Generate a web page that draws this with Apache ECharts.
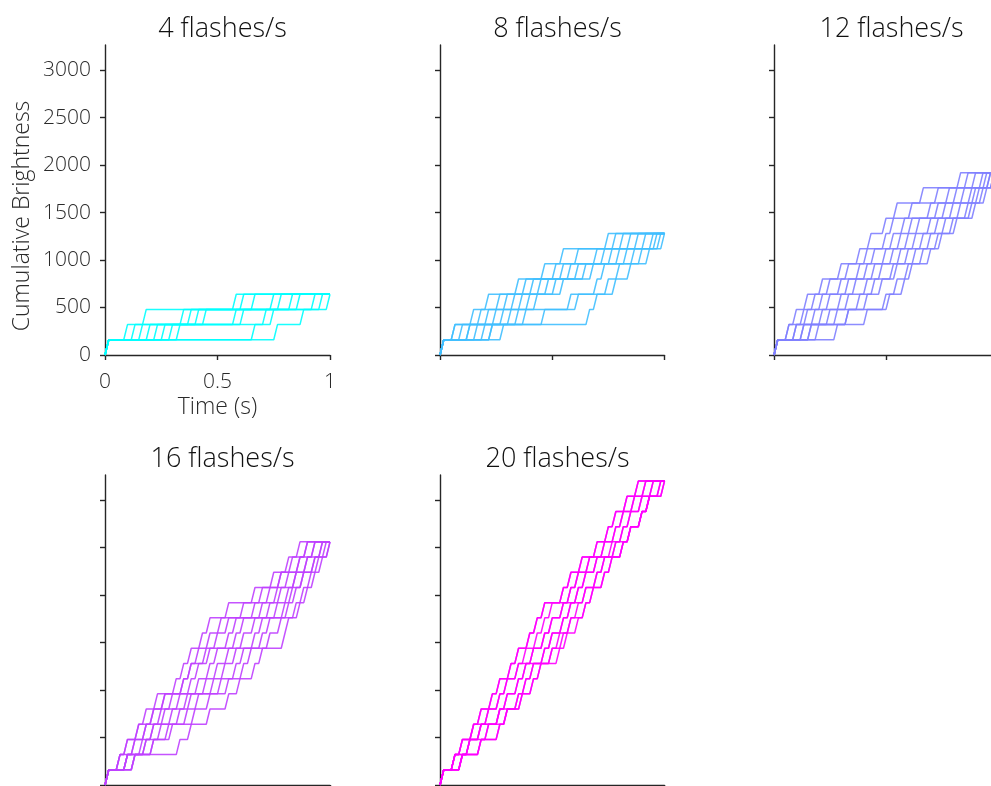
<!DOCTYPE html>
<html><head><meta charset="utf-8">
<script src="https://cdn.jsdelivr.net/npm/echarts@6/dist/echarts.min.js"></script>
<style>html,body{margin:0;padding:0;background:#fff}#c{width:991px;height:786px}</style>
</head><body><div id="c"></div>
<script>
// ---- data ----
const titles = ['4 flashes/s', '8 flashes/s', '12 flashes/s', '16 flashes/s', '20 flashes/s'];
const colors = ['#00ffff', '#40bfff', '#8080ff', '#bf40ff', '#ff00ff'];
const yTicks = [0, 500, 1000, 1500, 2000, 2500, 3000];
const xTicks = [0, 0.5, 1];
const yLabel = 'Cumulative Brightness';
const xLabel = 'Time (s)';
const flashBrightness = 160;   // brightness added per flash
const samplesPerSecond = 60;   // 60 Hz sampling, 1 s trials
const firstFlash = 1;          // every trial flashes at the first sample
// sample index of flash k (k = 2..N) for the 10 trials, one row per flash number
const flashes4 = [
  [6, 8, 10, 12, 14, 16, 18, 20, 40, 46],
  [11, 21, 23, 25, 27, 35, 37, 43, 45, 53],
  [35, 37, 40, 45, 47, 50, 52, 56, 58, 60]
];
const flashes8 = [
  [4, 4, 6, 8, 8, 10, 12, 14, 14, 17],
  [9, 11, 13, 15, 17, 19, 21, 23, 28, 40],
  [13, 16, 18, 20, 22, 24, 26, 35, 37, 42],
  [21, 23, 25, 27, 29, 31, 33, 42, 45, 47],
  [28, 31, 33, 35, 37, 39, 41, 44, 48, 51],
  [33, 37, 42, 44, 46, 48, 50, 52, 54, 56],
  [45, 47, 49, 51, 53, 55, 57, 58, 59, 60]
];
const flashes12 = [
  [4, 4, 6, 6, 8, 8, 10, 10, 12, 17],
  [6, 8, 9, 11, 13, 15, 17, 20, 20, 25],
  [9, 11, 13, 15, 18, 20, 23, 25, 30, 31],
  [13, 15, 18, 20, 22, 25, 27, 29, 33, 35],
  [18, 20, 23, 25, 27, 29, 32, 33, 36, 37],
  [23, 25, 27, 30, 32, 34, 36, 38, 40, 42],
  [26, 30, 32, 34, 36, 38, 40, 42, 44, 45],
  [30, 32, 35, 37, 39, 42, 44, 46, 48, 49],
  [33, 37, 42, 44, 46, 48, 50, 52, 53, 54],
  [40, 44, 47, 49, 51, 53, 54, 55, 56, 57],
  [50, 52, 54, 56, 57, 58, 58, 59, 59, 60]
];
const flashes16 = [
  [4, 4, 4, 6, 6, 6, 6, 8, 8, 8],
  [6, 6, 8, 8, 10, 11, 11, 13, 13, 20],
  [9, 9, 11, 11, 13, 13, 15, 17, 18, 23],
  [11, 13, 13, 15, 16, 18, 20, 22, 24, 28],
  [14, 16, 16, 18, 20, 22, 23, 25, 28, 33],
  [19, 21, 21, 23, 25, 27, 29, 31, 33, 36],
  [21, 23, 23, 25, 28, 30, 32, 35, 37, 40],
  [23, 25, 27, 28, 30, 33, 35, 37, 39, 42],
  [26, 28, 30, 33, 35, 37, 40, 42, 44, 48],
  [28, 31, 33, 35, 37, 40, 42, 44, 47, 49],
  [33, 37, 40, 42, 44, 46, 48, 49, 51, 52],
  [40, 42, 44, 46, 47, 49, 50, 51, 53, 54],
  [45, 47, 47, 49, 51, 51, 53, 53, 55, 56],
  [49, 50, 52, 52, 54, 54, 56, 56, 57, 58],
  [52, 54, 54, 56, 56, 58, 58, 59, 60, 60]
];
const flashes20 = [
  [4, 4, 4, 4, 4, 6, 6, 6, 6, 6],
  [6, 6, 6, 8, 8, 8, 8, 11, 11, 11],
  [9, 9, 9, 11, 11, 11, 13, 13, 16, 16],
  [11, 11, 13, 13, 16, 16, 16, 18, 18, 18],
  [14, 14, 16, 16, 18, 18, 21, 21, 22, 22],
  [16, 16, 18, 18, 21, 21, 23, 23, 25, 25],
  [19, 19, 21, 21, 23, 23, 25, 25, 27, 27],
  [21, 21, 23, 25, 25, 28, 28, 30, 30, 32],
  [24, 24, 26, 28, 28, 30, 30, 32, 33, 34],
  [26, 26, 28, 30, 30, 33, 33, 35, 35, 37],
  [28, 28, 30, 33, 33, 35, 35, 37, 39, 39],
  [33, 33, 35, 35, 37, 37, 39, 39, 41, 41],
  [35, 35, 37, 37, 39, 39, 42, 42, 44, 44],
  [38, 38, 40, 40, 42, 42, 44, 44, 46, 46],
  [42, 42, 44, 44, 46, 47, 47, 49, 49, 49],
  [45, 45, 47, 47, 49, 49, 51, 51, 51, 51],
  [47, 47, 49, 49, 51, 51, 54, 54, 54, 54],
  [50, 50, 52, 52, 54, 54, 56, 56, 56, 56],
  [53, 53, 55, 55, 57, 57, 59, 59, 60, 60]
];
const panels = [flashes4, flashes8, flashes12, flashes16, flashes20];

// ---- layout ----
const FONT = '"Open Sans", "Liberation Sans", sans-serif';
const gridPos = [
  {left: 105, top: 45, width: 225, height: 310},
  {left: 440, top: 45, width: 224.5, height: 310},
  {left: 774, top: 45, width: 224, height: 310},
  {left: 105, top: 475, width: 225, height: 310},
  {left: 440, top: 475, width: 224.5, height: 310}
];
const axisCol = '#262626';
const labelStyle = {fontFamily: FONT, fontWeight: 300, fontSize: 21, color: '#2a2a2a'};
const nameStyle = {fontFamily: FONT, fontWeight: 300, fontSize: 23, color: '#2a2a2a'};

function traceData(levels, trial) {
  const idx = [firstFlash].concat(levels.map(l => l[trial]));
  const pts = [];
  for (let n = 0; n <= samplesPerSecond; n++) {
    let c = 0;
    idx.forEach(k => { if (k <= n) c++; });
    pts.push([n / samplesPerSecond, c * flashBrightness]);
  }
  return pts;
}

const grid = [], xAxis = [], yAxis = [], series = [], title = [];
panels.forEach((levels, p) => {
  const g = gridPos[p];
  grid.push(Object.assign({containLabel: false, outerBoundsMode: 'none'}, g));
  const first = p === 0;
  title.push({
    text: titles[p], left: g.left + 112.5, top: g.top - 34, textAlign: 'center',
    textStyle: {fontFamily: FONT, fontSize: 27, fontWeight: 300, color: '#111'}
  });
  xAxis.push({
    gridIndex: p, type: 'value', min: 0, max: 1, interval: 0.5,
    axisLine: {show: true, lineStyle: {color: axisCol, width: 1.4}},
    axisTick: {show: true, length: 5, lineStyle: {color: axisCol, width: 1.4}, customValues: xTicks},
    axisLabel: Object.assign({show: first, customValues: xTicks, margin: 17, formatter: v => String(v)}, labelStyle),
    splitLine: {show: false},
    name: first ? xLabel : '', nameLocation: 'middle', nameGap: 41,
    nameTextStyle: nameStyle
  });
  yAxis.push({
    gridIndex: p, type: 'value', min: 0, max: 3264,
    axisLine: {show: true, lineStyle: {color: axisCol, width: 1.4}},
    axisTick: {show: true, length: 5, lineStyle: {color: axisCol, width: 1.4}, customValues: yTicks},
    axisLabel: Object.assign({show: first, customValues: yTicks, margin: 14, formatter: v => String(v)}, labelStyle),
    splitLine: {show: false}
  });
  for (let t = 0; t < levels[0].length; t++) {
    series.push({
      type: 'line', xAxisIndex: p, yAxisIndex: p, data: traceData(levels, t),
      showSymbol: false, symbol: 'none', silent: true, clip: false,
      lineStyle: {color: colors[p], width: 1.5, opacity: 0.9},
      emphasis: {disabled: true}
    });
  }
});

const chart = echarts.init(document.getElementById('c'), null, {renderer: 'canvas'});
chart.setOption({
  animation: false, backgroundColor: '#fff', title, grid, xAxis, yAxis, series,
  graphic: [{
    type: 'text', x: 22, y: 216, rotation: Math.PI / 2,
    style: {text: yLabel, align: 'center', verticalAlign: 'middle',
      font: '300 23px ' + FONT, fill: '#2a2a2a'}
  }]
});
</script></body></html>
